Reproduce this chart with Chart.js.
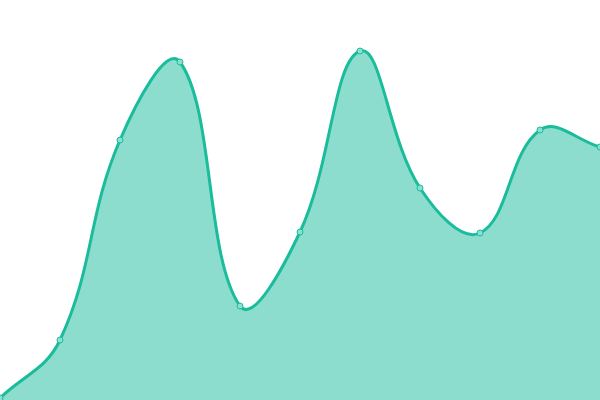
<!DOCTYPE html>
<html>
<head>
<meta charset="utf-8">
<script src="https://cdn.jsdelivr.net/npm/chart.js@4"></script>
<style>
  html, body { margin: 0; padding: 0; background: #fff; }
  #wrap { width: 600px; height: 400px; }
</style>
</head>
<body>
<div id="wrap"><canvas id="area-chart" width="600" height="400"></canvas></div>
<script>
// values (y axis runs 0..400)
const labels = ['1', '2', '3', '4', '5', '6', '7', '8', '9', '10', '11'];
const values = [2, 60, 260, 338, 94, 168, 349, 212, 167, 270, 253];
const yMin = 0;
const yMax = 400;

const ctx = document.getElementById('area-chart').getContext('2d');
new Chart(ctx, {
    type: 'line',
    data: {
        labels: labels,
        datasets: [{
            data: values,
            borderColor: '#1abc9c',
            backgroundColor: 'rgba(26, 188, 156, 0.5)',
            borderWidth: 3,
            fill: 'start',
            tension: 0.4,
            pointRadius: 3,
            pointBorderWidth: 1,
            pointBackgroundColor: '#8ae0d0',
            pointBorderColor: '#1abc9c'
        }]
    },
    options: {
        responsive: false,
        animation: false,
        layout: { padding: 0, autoPadding: false },
        plugins: { legend: { display: false }, tooltip: { enabled: false } },
        scales: {
            x: { display: false, offset: false },
            y: { display: false, min: yMin, max: yMax }
        }
    }
});
</script>
</body>
</html>
